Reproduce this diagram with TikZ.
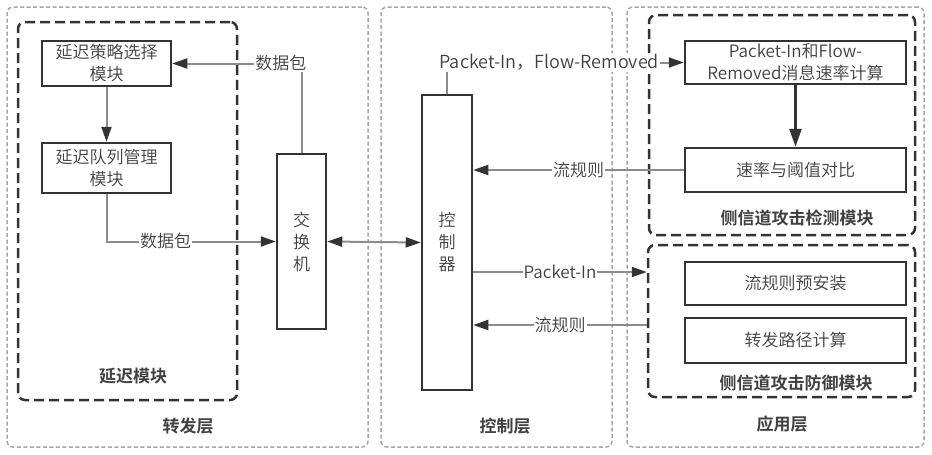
\documentclass[tikz,border=0pt]{standalone}
\usepackage{fontspec}
\setmainfont{Noto Sans CJK SC DemiLight}[BoldFont={Noto Sans CJK SC Bold}]
\usetikzlibrary{arrows.meta}
\definecolor{txt}{HTML}{404040}
\definecolor{edgec}{HTML}{333333}
\definecolor{connc}{HTML}{8C8C8C}
\definecolor{layc}{HTML}{A6A6A6}
\tikzset{
  every node/.style={font=\fontsize{17}{22}\selectfont, text=txt},
  layerbox/.style={draw=layc, line width=1.5pt, dash pattern=on 4pt off 2.5pt, rounded corners=6pt, inner sep=0pt},
  modbox/.style={draw=edgec, line width=2.5pt, dash pattern=on 10pt off 5pt, rounded corners=7pt, inner sep=0pt},
  unitbox/.style={draw=edgec, line width=2.5pt, align=center, inner sep=1pt, fill=white},
  titlelbl/.style={font=\fontsize{17}{22}\selectfont\bfseries, text=txt},
  lbl/.style={fill=white, inner sep=1pt},
  widelbl/.style={fill=white, inner sep=1pt, font=\fontsize{18}{22}\selectfont},
  conn/.style={draw=connc, line width=2pt, -{Triangle[length=15pt,width=10pt,color=edgec]}},
  darkconn/.style={draw=edgec, line width=2.5pt, -{Triangle[length=18pt,width=12pt,color=edgec]}},
}
\begin{document}
\begin{tikzpicture}[x=1pt,y=-1pt]
\useasboundingbox (0,0) rectangle (932,455);
% layers
\node[layerbox, minimum width=361pt, minimum height=440pt] (fwd) at (187.5,227) {};
\node[layerbox, minimum width=231pt, minimum height=440pt] (ctl) at (496.5,227) {};
\node[layerbox, minimum width=297pt, minimum height=440pt] (app) at (775.5,227) {};
\node[titlelbl] (fwdT) at (188,426) {转发层};
\node[titlelbl] (ctlT) at (505,426) {控制层};
\node[titlelbl] (appT) at (782,424) {应用层};
% modules
\node[modbox, minimum width=219pt, minimum height=378pt] (delay) at (127.5,211) {};
\node[titlelbl] (delayT) at (133,376) {延迟模块};
\node[modbox, minimum width=266pt, minimum height=220pt] (detect) at (782,125) {};
\node[titlelbl] (detectT) at (797,218) {侧信道攻击检测模块};
\node[modbox, minimum width=267pt, minimum height=152pt] (defend) at (781.5,321) {};
\node[titlelbl] (defendT) at (796,383) {侧信道攻击防御模块};
% units
\node[unitbox, minimum width=129pt, minimum height=45pt] (strat) at (106.5,63.5) {延迟策略选择\\模块};
\node[unitbox, minimum width=129pt, minimum height=50pt] (queue) at (106.5,168) {延迟队列管理\\模块};
\node[unitbox, minimum width=49pt, minimum height=175pt] (switch) at (301.5,241.5) {交\\换\\机};
\node[unitbox, minimum width=50pt, minimum height=295pt] (ctrl) at (447,242.5) {控\\制\\器};
\node[unitbox, minimum width=221pt, minimum height=43pt] (calc) at (795.5,62.5) {Packet-In和Flow-\\Removed消息速率计算};
\node[unitbox, minimum width=221pt, minimum height=44pt] (cmp) at (795.5,170) {速率与阈值对比};
\node[unitbox, minimum width=221pt, minimum height=43pt] (pre) at (795.5,283.5) {流规则预安装};
\node[unitbox, minimum width=221pt, minimum height=45pt] (route) at (795.5,340.5) {转发路径计算};
% connectors
\draw[conn] (strat.south) -- (queue.north);
\draw[conn] (queue.south) |- node[lbl, pos=0.675] {数据包} (switch.west);
\draw[conn] (switch.north) |- node[lbl, pos=0.58] {数据包} (strat.east);
\draw[conn, {Triangle[length=15pt,width=10pt,color=edgec]}-{Triangle[length=15pt,width=10pt,color=edgec]}] (switch.east) -- (ctrl.west);
\draw[conn] (ctrl.north) |- node[widelbl, pos=0.716] {Packet-In，Flow-Removed} (calc.west);
\draw[conn] (cmp.west) -- node[lbl] {流规则} (cmp.west -| ctrl.east);
\draw[conn] ([yshift=-29.5pt]ctrl.east) -- node[lbl] {Packet-In} ([yshift=49pt]defend.west);
\draw[conn] ([yshift=-4pt]defend.west) -- node[lbl] {流规则} ([yshift=-82.5pt]ctrl.east);
\draw[darkconn] (calc.south) -- (cmp.north);
\end{tikzpicture}
\end{document}
